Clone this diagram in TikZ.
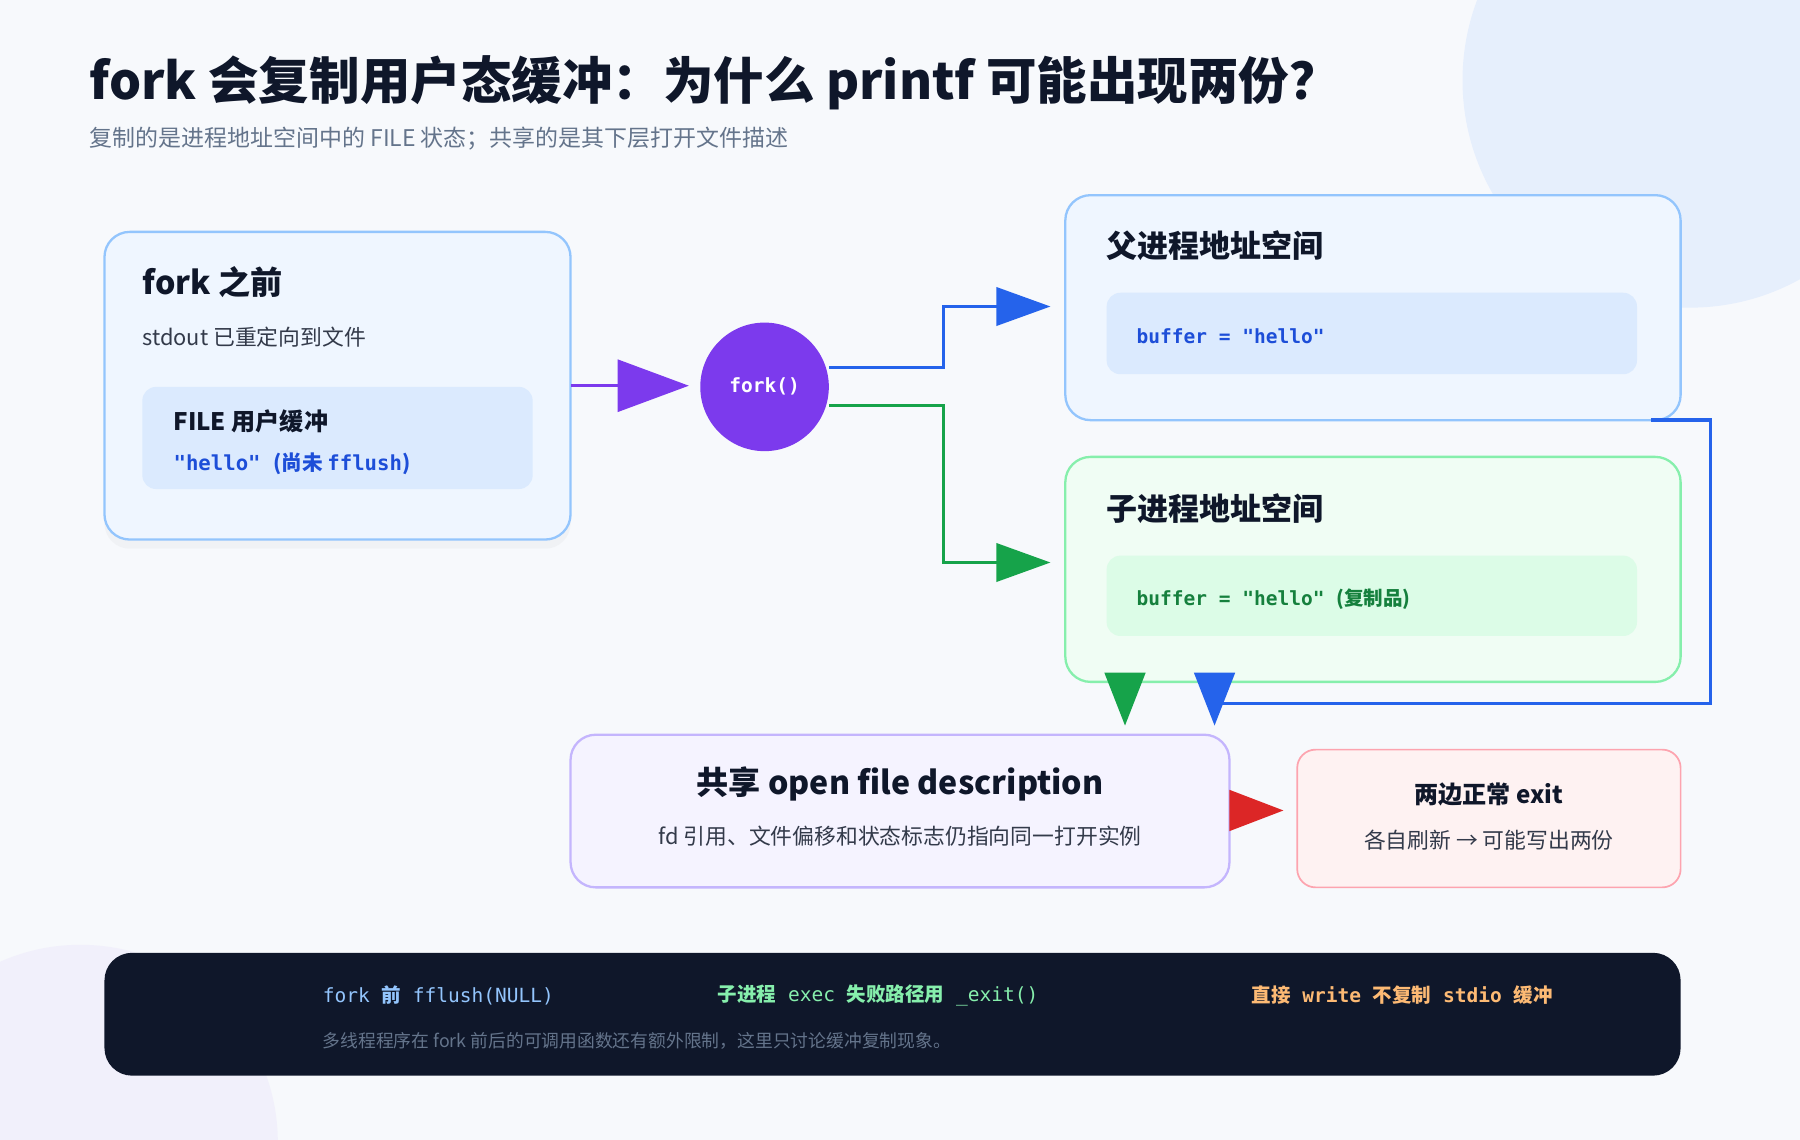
\documentclass[tikz,border=0pt]{standalone}
\usepackage{fontspec}
\setmainfont{Noto Sans CJK SC}
\newfontfamily\mono{DejaVu Sans Mono}
\usetikzlibrary{shadows}
\definecolor{bg}{HTML}{F7F9FC}
\definecolor{ink}{HTML}{0F172A}
\definecolor{sub}{HTML}{64748B}
\definecolor{bluefill}{HTML}{EFF6FF}
\definecolor{bluein}{HTML}{DBEAFE}
\definecolor{bluestroke}{HTML}{93C5FD}
\definecolor{blue}{HTML}{2563EB}
\definecolor{bluetxt}{HTML}{1D4ED8}
\definecolor{greenfill}{HTML}{F0FDF4}
\definecolor{greenin}{HTML}{DCFCE7}
\definecolor{greenstroke}{HTML}{86EFAC}
\definecolor{green}{HTML}{16A34A}
\definecolor{greentxt}{HTML}{15803D}
\definecolor{purple}{HTML}{7C3AED}
\definecolor{purplefill}{HTML}{F5F3FF}
\definecolor{purplestroke}{HTML}{C4B5FD}
\definecolor{red}{HTML}{DC2626}
\definecolor{redfill}{HTML}{FEF2F2}
\definecolor{redstroke}{HTML}{FDA4AF}
\definecolor{orangetxt}{HTML}{FDBA74}
\definecolor{circ}{HTML}{E6EFFC}
\definecolor{circ2}{HTML}{F1F0FB}
\newcommand{\fsz}[1]{\fontsize{#1}{#1}\selectfont}
\begin{document}
\begin{tikzpicture}[x=1pt,y=-1pt,
  box/.style={draw, line width=2pt, rounded corners=22pt},
  inner/.style={rounded corners=12pt},
  lbl/.style={anchor=west, inner sep=0pt},
  conn/.style={line width=3pt},
  ]
\useasboundingbox (0,0) rectangle (1568,993);
\fill[bg] (0,0) rectangle (1568,993);
\begin{scope}
\clip (0,0) rectangle (1568,993);
\fill[circ] (1472,70) circle (198);
\fill[circ2] (70,995) circle (172);
\end{scope}
% title
\node[lbl, text=ink] (title) at (78,72) {\fsz{44}\bfseries fork 会复制用户态缓冲：为什么 printf 可能出现两份？};
\node[lbl, text=sub] (subt) at (78,121) {\fsz{20}复制的是进程地址空间中的 FILE 状态；共享的是其下层打开文件描述};
% box 1
\draw[box, draw=bluestroke, fill=bluefill, drop shadow={opacity=0.05, shadow xshift=0pt, shadow yshift=-8pt}] (91,202) rectangle (497,470);
\node[lbl, text=ink] at (124,246) {\fsz{28}\bfseries fork 之前};
\node[lbl, text=ink!85] at (124,294) {\fsz{19}stdout 已重定向到文件};
\fill[inner, bluein] (124,337) rectangle (464,426);
\node[lbl, text=ink] at (151,367) {\fsz{21}\bfseries FILE 用户缓冲};
\node[lbl, text=bluetxt] at (151,404) {\fsz{18}\bfseries{\mono "hello" }(尚未 {\mono fflush})};
\coordinate (b1e) at (497,336);
% fork circle
\node[circle, fill=purple, minimum size=112pt, inner sep=0pt, text=white] (fork) at (666,337) {\fsz{17}\mono\bfseries fork()};
\draw[conn, purple] (b1e) -- (545,336);
\fill[purple] (538,313) -- (600,336) -- (538,359) -- cycle;
% parent box
\draw[box, draw=bluestroke, fill=bluefill] (928,170) rectangle (1464,366);
\node[lbl, text=ink] (ptitle) at (964,214) {\fsz{27}\bfseries 父进程地址空间};
\fill[inner, bluein] (964,255) rectangle (1426,326);
\node[lbl, text=bluetxt] at (990,293) {\fsz{17}\mono\bfseries buffer = "hello"};
% child box
\draw[box, draw=greenstroke, fill=greenfill] (928,398) rectangle (1464,594);
\node[lbl, text=ink] (ctitle) at (964,443) {\fsz{27}\bfseries 子进程地址空间};
\fill[inner, greenin] (964,484) rectangle (1426,554);
\node[lbl, text=greentxt] at (990,522) {\fsz{17}\bfseries{\mono buffer = "hello" }(复制品)};
% connectors from fork
\coordinate (pin) at (872,267);
\coordinate (cin) at (872,490);
\draw[conn, blue] (fork.east |- 0,320) -- (822,320) -- (822,267) -- (pin);
\fill[blue] (868,250) -- (915,267) -- (868,284) -- cycle;
\draw[conn, green] (fork.east |- 0,353) -- (822,353) -- (822,490) -- (cin);
\fill[green] (868,473) -- (915,490) -- (868,507) -- cycle;
% parent -> shared
\coordinate (pout) at (1438,366);
\draw[conn, blue] (pout) -- (1490,366) -- (1490,613) -- (1058,613);
\fill[blue] (1040,586) -- (1076,586) -- (1058,632) -- cycle;
\fill[green] (962,586) -- (998,586) -- (980,632) -- cycle;
% shared box
\draw[box, draw=purplestroke, fill=purplefill] (497,640) rectangle (1071,773);
\node[text=ink, inner sep=0pt] (shared) at (784,683) {\fsz{28}\bfseries 共享 open file description};
\node[text=ink!85, inner sep=0pt] at (784,728) {\fsz{19}fd 引用、文件偏移和状态标志仍指向同一打开实例};
% red arrow
\fill[red] (1071,688) -- (1118,706) -- (1071,724) -- cycle;
% exit box
\draw[box, draw=redstroke, fill=redfill, line width=1.5pt, rounded corners=16pt] (1130,653) rectangle (1464,773);
\node[text=ink, inner sep=0pt] (exit) at (1297,692) {\fsz{21}\bfseries 两边正常 exit};
\node[text=ink!85, inner sep=0pt] at (1297,732) {\fsz{19}各自刷新 → 可能写出两份};
% bottom bar
\fill[ink, rounded corners=24pt] (91,830) rectangle (1464,937);
\node[lbl, text=bluestroke] at (281,867) {\fsz{17}{\mono fork }\bfseries 前{\mono\mdseries{} fflush(NULL)}};
\node[lbl, text=greenstroke] at (625,867) {\fsz{17}\bfseries 子进程{\mono\mdseries{} exec }失败路径用{\mono\mdseries{} \_exit()}};
\node[lbl, text=orangetxt] at (1090,867) {\fsz{17}\bfseries 直接{\mono{} write }不复制{\mono{} stdio }缓冲};
\node[lbl, text=sub] at (281,907) {\fsz{15.5}多线程程序在 fork 前后的可调用函数还有额外限制，这里只讨论缓冲复制现象。};
\end{tikzpicture}
\end{document}
